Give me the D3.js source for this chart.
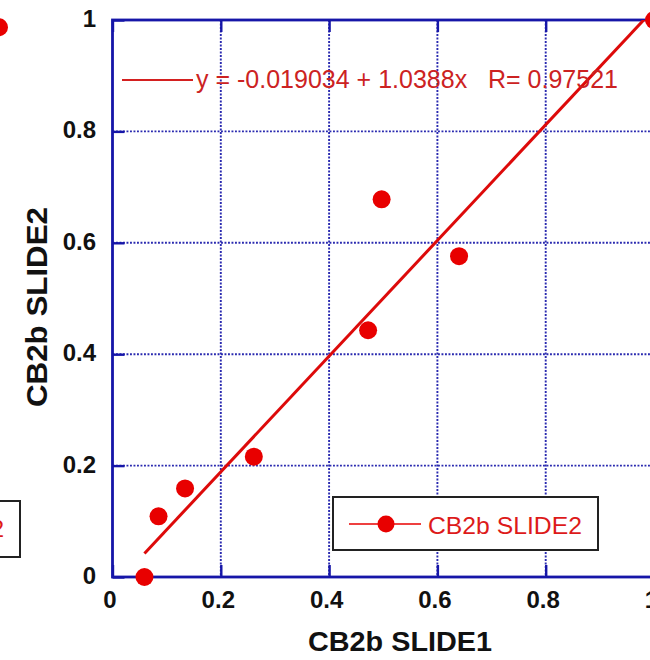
<!DOCTYPE html>
<html>
<head>
<meta charset="utf-8">
<script src="https://cdn.jsdelivr.net/npm/d3@7"></script>
<style>
  html, body { margin: 0; padding: 0; background: #fff; }
  svg { display: block; }
  text { font-family: "Liberation Sans", Arial, Helvetica, sans-serif; }
</style>
</head>
<body>
<svg id="chart" width="650" height="660"></svg>
<script>
// Scatter of CB2b slide 1 vs slide 2 with least-squares fit
const xTicks = [0, 0.2, 0.4, 0.6, 0.8, 1];
const xTickLabels = ["0", "0.2", "0.4", "0.6", "0.8", "1"];
const yTicks = [0, 0.2, 0.4, 0.6, 0.8, 1];
const yTickLabels = ["0", "0.2", "0.4", "0.6", "0.8", "1"];

const slide1 = [0.059, 0.085, 0.134, 0.261, 0.472, 0.497, 0.640, 1.0];
const slide2 = [0.000, 0.109, 0.159, 0.216, 0.443, 0.678, 0.576, 1.0];

const fitIntercept = -0.019034;
const fitSlope = 1.0388;
const fitR = 0.97521;

const seriesName = "CB2b SLIDE2";
const xTitle = "CB2b SLIDE1";
const yTitle = "CB2b SLIDE2";

// Edge of the neighbouring panel on the left
const neighborX = [1.0];
const neighborY = [0.987];

const svg = d3.select("#chart");
const frameColor = "#1616a8";
const gridColor = "#2a2ab0";
const red = "#e80000";

const x = d3.scaleLinear().domain([0, 1]).range([112.5, 654]);
const y = d3.scaleLinear().domain([0, 1]).range([577, 20]);

// neighbouring panel fragments
const nx = d3.scaleLinear().domain([0, 1]).range([-542, -1]);
const ny = d3.scaleLinear().domain([0, 1]).range([577, 20]);
svg.append("g").selectAll("circle")
  .data(neighborX.map((d, i) => [d, neighborY[i]]))
  .join("circle")
  .attr("cx", d => nx(d[0])).attr("cy", d => ny(d[1]))
  .attr("r", 9).attr("fill", red);
svg.append("rect")
  .attr("x", -300).attr("y", 501).attr("width", 320).attr("height", 56)
  .attr("fill", "#fff").attr("stroke", "#222").attr("stroke-width", 2);
svg.append("text")
  .attr("x", 4).attr("y", 537).attr("text-anchor", "end")
  .attr("font-size", 24).attr("fill", "#dd1a1a")
  .text(seriesName);

// dotted grid
const grid = svg.append("g")
  .attr("stroke", gridColor).attr("stroke-width", 1.9)
  .attr("stroke-dasharray", "1.9,1.6");
grid.selectAll("line.v")
  .data(xTicks.filter(d => d > 0 && d < 1))
  .join("line").attr("class", "v")
  .attr("x1", d => x(d)).attr("x2", d => x(d))
  .attr("y1", y(1)).attr("y2", y(0));
grid.selectAll("line.h")
  .data(yTicks.filter(d => d > 0 && d < 1))
  .join("line").attr("class", "h")
  .attr("x1", x(0)).attr("x2", x(1))
  .attr("y1", d => y(d)).attr("y2", d => y(d));

// axes (ticks pointing inward)
const styleAxis = g => {
  g.select(".domain").remove();
  g.selectAll(".tick line").attr("stroke", frameColor).attr("stroke-width", 2.4);
  g.selectAll(".tick text")
    .attr("font-family", "'Liberation Sans', Arial, sans-serif")
    .attr("font-weight", "bold").attr("font-size", 24).attr("fill", "#111");
};

svg.append("g")
  .attr("transform", `translate(0,${y(0)})`)
  .call(d3.axisBottom(x).tickValues(xTicks)
    .tickFormat((d, i) => xTickLabels[i])
    .tickSizeOuter(0).tickSizeInner(-12).tickPadding(14))
  .call(styleAxis)
  .call(g => g.selectAll(".tick text").attr("dx", -3));

svg.append("g")
  .attr("transform", `translate(${x(0)},0)`)
  .call(d3.axisLeft(y).tickValues(yTicks)
    .tickFormat((d, i) => yTickLabels[i])
    .tickSizeOuter(0).tickSizeInner(-12).tickPadding(16.5))
  .call(styleAxis)
  .call(g => g.selectAll(".tick text").attr("dy", "0.27em"));

svg.append("g")
  .attr("transform", `translate(0,${y(1)})`)
  .call(d3.axisTop(x).tickValues(xTicks).tickFormat("")
    .tickSizeOuter(0).tickSizeInner(-12))
  .call(styleAxis);

// plot frame
svg.append("rect")
  .attr("x", x(0)).attr("y", y(1))
  .attr("width", x(1) - x(0)).attr("height", y(0) - y(1))
  .attr("fill", "none").attr("stroke", frameColor).attr("stroke-width", 2.8);

// fit line, clipped to the plot area
svg.append("clipPath").attr("id", "plotClip")
  .append("rect")
  .attr("x", x(0)).attr("y", y(1))
  .attr("width", x(1) - x(0)).attr("height", y(0) - y(1));

const xMin = d3.min(slide1), xMax = d3.max(slide1);
svg.append("line")
  .attr("clip-path", "url(#plotClip)")
  .attr("x1", x(xMin)).attr("y1", y(fitIntercept + fitSlope * xMin))
  .attr("x2", x(xMax)).attr("y2", y(fitIntercept + fitSlope * xMax))
  .attr("stroke", "#dd0a0a").attr("stroke-width", 3);

// data points
svg.append("g").selectAll("circle")
  .data(slide1.map((d, i) => [d, slide2[i]]))
  .join("circle")
  .attr("cx", d => x(d[0])).attr("cy", d => y(d[1]))
  .attr("r", 9).attr("fill", red);

// fit equation
svg.append("line")
  .attr("x1", 122).attr("x2", 193).attr("y1", 80).attr("y2", 80)
  .attr("stroke", "#d42020").attr("stroke-width", 2);
svg.append("text")
  .attr("x", 196).attr("y", 88)
  .attr("font-size", 25).attr("fill", "#cc2222")
  .style("white-space", "pre")
  .attr("textLength", 422).attr("lengthAdjust", "spacingAndGlyphs")
  .text(`y = ${fitIntercept} + ${fitSlope}x   R= ${fitR}`);

// legend
const legend = svg.append("g");
legend.append("rect")
  .attr("x", 333).attr("y", 497).attr("width", 265).attr("height", 53)
  .attr("fill", "#fff").attr("stroke", "#222").attr("stroke-width", 2);
legend.append("line")
  .attr("x1", 349).attr("x2", 421).attr("y1", 524).attr("y2", 524)
  .attr("stroke", red).attr("stroke-width", 1.5);
legend.append("circle")
  .attr("cx", 386).attr("cy", 524).attr("r", 8.5).attr("fill", red);
legend.append("text")
  .attr("x", 428).attr("y", 534)
  .attr("font-size", 24).attr("fill", "#dd1a1a")
  .attr("textLength", 154).attr("lengthAdjust", "spacingAndGlyphs")
  .text(seriesName);

// axis titles
svg.append("text")
  .attr("x", 400).attr("y", 651).attr("text-anchor", "middle")
  .attr("font-size", 28).attr("font-weight", "bold").attr("fill", "#111")
  .attr("textLength", 184).attr("lengthAdjust", "spacingAndGlyphs")
  .text(xTitle);
svg.append("text")
  .attr("transform", "translate(47,307) rotate(-90)")
  .attr("text-anchor", "middle")
  .attr("font-size", 30).attr("font-weight", "bold").attr("fill", "#111")
  .attr("textLength", 200).attr("lengthAdjust", "spacingAndGlyphs")
  .text(yTitle);
</script>
</body>
</html>
